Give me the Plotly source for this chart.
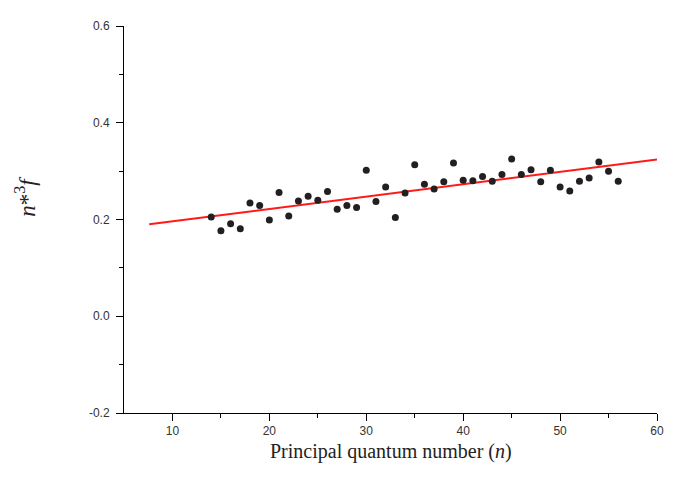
import plotly.graph_objects as go

n_vals = list(range(14, 57))
n3f = [0.205, 0.177, 0.191, 0.181, 0.234, 0.229, 0.199, 0.256, 0.207, 0.238,
       0.248, 0.240, 0.258, 0.221, 0.229, 0.225, 0.302, 0.237, 0.267, 0.204,
       0.255, 0.313, 0.273, 0.263, 0.278, 0.317, 0.281, 0.280, 0.289, 0.279,
       0.293, 0.325, 0.293, 0.303, 0.278, 0.302, 0.267, 0.259, 0.279, 0.286,
       0.319, 0.300, 0.279]

fit_x = [7.6, 60]
fit_y = [0.190, 0.324]

x_ticks = [10, 20, 30, 40, 50, 60]
y_ticks = [-0.2, 0.0, 0.2, 0.4, 0.6]
y_tick_labels = ["-0.2", "0.0", "0.2", "0.4", "0.6"]

fig = go.Figure()
fig.add_trace(go.Scatter(x=fit_x, y=fit_y, mode="lines",
                         line=dict(color="#ff1a1a", width=2), showlegend=False,
                         cliponaxis=False))
fig.add_trace(go.Scatter(x=n_vals, y=n3f, mode="markers",
                         marker=dict(color="#231f20", size=7), showlegend=False))

axis_common = dict(showline=True, linecolor="black", linewidth=1, ticks="outside",
                   ticklen=7, tickwidth=1, tickcolor="black", showgrid=False,
                   zeroline=False, mirror=False,
                   tickfont=dict(family="Liberation Sans, Arial", size=12, color="#333333"))

fig.update_xaxes(range=[5, 60], tickvals=x_ticks,
                 minor=dict(tickvals=[15, 25, 35, 45, 55], ticks="outside", ticklen=4,
                            tickcolor="black", tickwidth=1),
                 **axis_common)
fig.update_yaxes(range=[-0.2, 0.6], tickvals=y_ticks, ticktext=y_tick_labels,
                 ticklabelstandoff=4,
                 minor=dict(tickvals=[-0.1, 0.1, 0.3, 0.5], ticks="outside", ticklen=4,
                            tickcolor="black", tickwidth=1),
                 **axis_common)

fig.add_annotation(text="Principal quantum number (<i>n</i>)", xref="paper", yref="paper",
                   x=0.5, y=-0.099, showarrow=False, yanchor="middle", xanchor="center",
                   font=dict(family="Liberation Serif, Times New Roman", size=20, color="#222222"))
fig.add_annotation(text="<i>n</i>*<sup>3</sup><i>f</i>", xref="paper", yref="paper",
                   x=-0.185, y=0.56, showarrow=False, textangle=-90,
                   xanchor="center", yanchor="middle",
                   font=dict(family="Liberation Serif, Times New Roman", size=23, color="#222222"))

fig.update_layout(width=676, height=487, plot_bgcolor="white", paper_bgcolor="white",
                  margin=dict(l=116, r=27, t=11, b=82))

fig.write_html("out.html")
